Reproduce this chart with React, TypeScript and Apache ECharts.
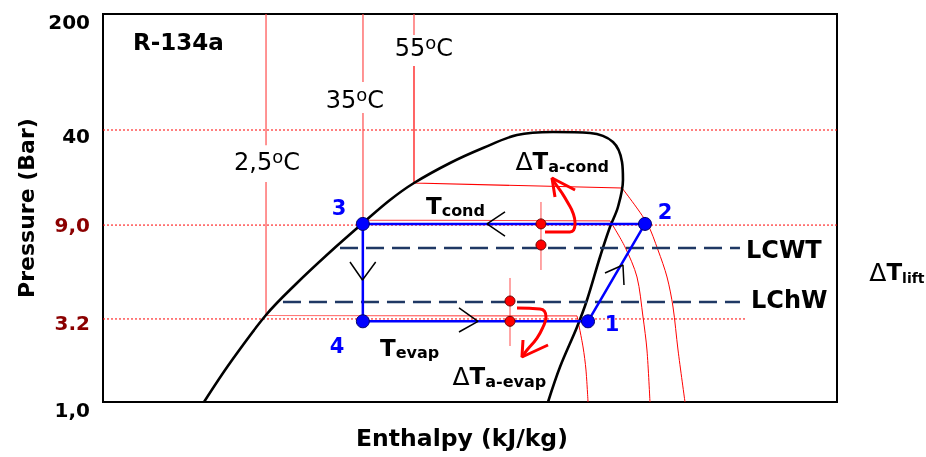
import React, { useEffect, useRef } from 'react';
import * as echarts from 'echarts';

// Y axis: schematic pressure levels (0 = bottom of chart, 100 = top)
const pressureLevels = [0, 21.4, 45.6, 70.1, 100];
const pressureLabels = ['1,0', '3.2', '9,0', '40', '200'];

// Saturation dome (enthalpy index, pressure level)
const saturationDome: number[][] = [
  [13.76, 0], [17.3, 10.05], [22.21, 22.42], [26.43, 30.67], [30.79, 38.4],
  [35.42, 46.13], [39.1, 52.06], [42.37, 56.44], [47.28, 61.6], [51.77, 65.46],
  [56.4, 68.81], [61.31, 69.59], [66.35, 69.33], [69.48, 67.01], [70.71, 61.86],
  [70.84, 57.22], [70.16, 50.26], [69.07, 45.1], [67.71, 37.37], [65.94, 26.29],
  [64.58, 19.33], [62.26, 9.02], [60.63, 0],
];

// Isotherms
const iso25Top = [[22.21, 100], [22.21, 66.2]];
const iso25Main = [[22.21, 56.7], [22.21, 22.3], [64.58, 22.2]];
const iso25Vapor = [[64.58, 22.2], [65.4, 14.18], [65.8, 8.25], [66.08, 0]];
const iso35Top = [[35.42, 100], [35.42, 82.5]];
const iso35Main = [[35.42, 74.5], [35.42, 46.9], [69.07, 46.7]];
const iso35Vapor = [[69.07, 46.7], [71.12, 39.95], [72.75, 32.22], [73.57, 21.91], [74.11, 13.4], [74.52, 0]];
const iso55Top = [[42.37, 100], [42.37, 94.6]];
const iso55Main = [[42.37, 86.6], [42.37, 56.44], [70.71, 55.15]];
const iso55Vapor = [[70.71, 55.15], [74.11, 46.13], [75.61, 39.18], [76.84, 32.22], [77.66, 24.48], [78.34, 13.4], [79.29, 0]];

// Pressure reference lines
const p40Line = [[0, 70.1], [100, 70.1]];
const p9Line = [[0, 45.6], [100, 45.6]];
const p32Line = [[0, 21.4], [87.7, 21.4]];

// Refrigeration cycle points 1 -> 2 -> 3 -> 4 -> 1
const cyclePoints = [[66.08, 20.8], [73.84, 45.9], [35.4, 45.9], [35.4, 20.8]];
const cycleLine = [...cyclePoints, cyclePoints[0]];

// Water temperature lines
const lcwtLine = [[32.29, 39.69], [86.78, 39.69]];
const lchwLine = [[24.52, 25.77], [86.78, 25.77]];

// Approach temperature markers
const approachDots = [[59.67, 45.9], [59.67, 40.46], [55.45, 26.03], [55.45, 20.8]];
const condTick = [[59.67, 51.55], [59.67, 34.02]];
const evapTick = [[55.45, 31.96], [55.45, 14.43]];
const condArrow = [[60.22, 43.81], [63.62, 43.81], [64.31, 46.13], [64.03, 48.71], [63.35, 51.29], [62.53, 53.87], [61.58, 56.44], [61.17, 57.73]];
const condArrowHead = [[61.58, 52.84], [61.17, 57.73], [64.31, 54.64]];
const evapArrow = [[56.4, 24.23], [59.54, 23.97], [60.35, 21.91], [59.95, 19.33], [59.13, 16.49], [57.77, 13.4], [57.08, 11.6]];
const evapArrowHead = [[60.63, 14.69], [57.08, 11.6], [57.22, 15.98]];

// Flow direction chevrons
const chevronDown = [[33.65, 36.08], [35.35, 31.44], [37.15, 36.08]];
const chevronLeft = [[54.77, 48.97], [52.32, 45.9], [54.77, 42.78]];
const chevronRight = [[48.5, 24.23], [51.09, 20.8], [48.5, 18.04]];
const chevronUp = [[68.39, 33.25], [70.84, 35.31], [70.98, 30.15]];

// Lift brace
const liftBrace = [[100.82, 45.1], [101.9, 43.9], [102.18, 42.0], [102.18, 36.6], [102.6, 34.0], [103.41, 33.25], [102.6, 32.5], [102.18, 30.0], [102.18, 24.4], [101.9, 22.4], [100.82, 21.13]];

const FONT = 'DejaVu Sans';

// Text annotations anchored in data space
const annotations = [
  { value: [4.09, 92.78], text: '{rk|R-134a}', align: 'left' },
  { value: [22.34, 61.86], text: '{n|2,5}{s|o}{n|C}', align: 'center' },
  { value: [34.33, 77.84], text: '{n|35}{s|o}{n|C}', align: 'center' },
  { value: [43.73, 91.24], text: '{n|55}{s|o}{n|C}', align: 'center' },
  { value: [32.15, 50.0], text: '{b|3}', align: 'center' },
  { value: [76.57, 48.97], text: '{b|2}', align: 'center' },
  { value: [69.35, 20.1], text: '{b|1}', align: 'center' },
  { value: [31.88, 14.43], text: '{b|4}', align: 'center' },
  { value: [44.0, 50.6], text: '{t|T}{sub|cond}', align: 'left' },
  { value: [37.74, 14.0], text: '{t|T}{sub|evap}', align: 'left' },
  { value: [56.2, 62.0], text: '{d|Δ}{t|T}{sub|a-cond}', align: 'left' },
  { value: [47.62, 6.6], text: '{d|Δ}{t|T}{sub|a-evap}', align: 'left' },
  { value: [87.6, 39.18], text: '{big|LCWT}', align: 'left' },
  { value: [88.28, 26.29], text: '{big|LChW}', align: 'left' },
  { value: [104.4, 33.5], text: '{d|Δ}{t|T}{sl|lift}', align: 'left' },
];

const richText: any = {
  rk: { fontFamily: FONT, fontWeight: 'bold', fontSize: 23, fill: '#000' },
  n: { fontFamily: FONT, fontSize: 24, fill: '#000', lineHeight: 28 },
  s: { fontFamily: FONT, fontSize: 18, fill: '#000', verticalAlign: 'top', lineHeight: 16 },
  b: { fontFamily: FONT, fontWeight: 'bold', fontSize: 21, fill: '#0000ff' },
  t: { fontFamily: FONT, fontWeight: 'bold', fontSize: 23, fill: '#000', lineHeight: 26 },
  sub: { fontFamily: FONT, fontWeight: 'bold', fontSize: 16, fill: '#000', verticalAlign: 'bottom', lineHeight: 16 },
  sl: { fontFamily: FONT, fontWeight: 'bold', fontSize: 14, fill: '#000', verticalAlign: 'bottom', lineHeight: 15 },
  d: { fontFamily: FONT, fontSize: 25, fill: '#000', lineHeight: 26 },
  big: { fontFamily: FONT, fontWeight: 'bold', fontSize: 24, fill: '#000' },
};

function lineSeries(data: number[][], color: string, width: number, extra: any = {}) {
  return {
    type: 'line',
    data,
    showSymbol: false,
    symbol: 'none',
    silent: true,
    clip: false,
    smooth: extra.smooth !== undefined ? extra.smooth : false,
    lineStyle: { color, width, type: 'solid', ...(extra.lineStyle || {}) },
    z: extra.z ?? 3,
  };
}

export default function App() {
  const ref = useRef<HTMLDivElement>(null);
  useEffect(() => {
    const chart = echarts.init(ref.current!, undefined, { renderer: 'svg' });
    const isoColor = '#ff4d4d';
    const option: any = {
      animation: false,
      grid: { left: 103, right: 89, top: 14, bottom: 55, show: true, borderColor: '#000', borderWidth: 2, backgroundColor: 'transparent' },
      xAxis: {
        type: 'value', min: 0, max: 100,
        axisLine: { show: false }, axisTick: { show: false }, axisLabel: { show: false }, splitLine: { show: false },
        name: 'Enthalpy (kJ/kg)', nameLocation: 'middle', nameGap: 24,
        nameTextStyle: { fontFamily: FONT, fontWeight: 'bold', fontSize: 23.5, color: '#000', padding: [0, 16, 0, 0] },
      },
      yAxis: {
        type: 'value', min: 0, max: 100,
        axisLine: { show: false }, axisTick: { show: false }, splitLine: { show: false },
        axisLabel: {
          customValues: pressureLevels,
          margin: 13,
          formatter: (v: number) => {
            let idx = 0;
            pressureLevels.forEach((p, i) => { if (Math.abs(p - v) < Math.abs(pressureLevels[idx] - v)) idx = i; });
            const styles = ['k16', 'r8', 'r0', 'k12', 'k16'];
            return '{' + styles[idx] + '|' + pressureLabels[idx] + '}';
          },
          rich: {
            k16: { fontFamily: FONT, fontWeight: 'bold', fontSize: 20, color: '#000', padding: [16, 0, 0, 0] },
            k12: { fontFamily: FONT, fontWeight: 'bold', fontSize: 20, color: '#000', padding: [12, 0, 0, 0] },
            r8: { fontFamily: FONT, fontWeight: 'bold', fontSize: 20, color: '#8b0000', padding: [8, 0, 0, 0] },
            r0: { fontFamily: FONT, fontWeight: 'bold', fontSize: 20, color: '#8b0000' },
          },
        },
        name: 'Pressure (Bar)', nameLocation: 'middle', nameGap: 66, nameRotate: 90,
        nameTextStyle: { fontFamily: FONT, fontWeight: 'bold', fontSize: 22, color: '#000' },
      },
      series: [
        lineSeries(p40Line, '#ff0000', 1, { lineStyle: { type: [2, 2] }, z: 1 }),
        lineSeries(p9Line, '#ff0000', 1, { lineStyle: { type: [2, 2] }, z: 1 }),
        lineSeries(p32Line, '#ff0000', 1, { lineStyle: { type: [2, 2] }, z: 1 }),
        lineSeries(iso25Top, isoColor, 1.2),
        lineSeries(iso25Main, isoColor, 1.2),
        lineSeries(iso25Vapor, '#ff0000', 1, { smooth: 0.3 }),
        lineSeries(iso35Top, isoColor, 1.2),
        lineSeries(iso35Main, isoColor, 1.2),
        lineSeries(iso35Vapor, '#ff0000', 1, { smooth: 0.3 }),
        lineSeries(iso55Top, isoColor, 1.2),
        lineSeries(iso55Main, '#ff0000', 1.2),
        lineSeries(iso55Vapor, '#ff0000', 1, { smooth: 0.3 }),
        lineSeries(saturationDome, '#000', 2.6, { smooth: 0.35, z: 4 }),
        lineSeries(lcwtLine, '#1f3864', 2.5, { lineStyle: { type: [18, 8] }, z: 4 }),
        lineSeries(lchwLine, '#1f3864', 2.5, { lineStyle: { type: [18, 8] }, z: 4 }),
        lineSeries(condTick, isoColor, 1, { z: 4 }),
        lineSeries(evapTick, isoColor, 1, { z: 4 }),
        lineSeries(cycleLine, '#0000ff', 2.5, { z: 5 }),
        lineSeries(chevronDown, '#000', 1.5, { z: 6 }),
        lineSeries(chevronLeft, '#000', 1.5, { z: 6 }),
        lineSeries(chevronRight, '#000', 1.5, { z: 6 }),
        lineSeries(chevronUp, '#000', 1.5, { z: 6 }),
        lineSeries(condArrow, '#ff0000', 3, { smooth: 0.5, z: 6 }),
        lineSeries(condArrowHead, '#ff0000', 3, { z: 6 }),
        lineSeries(evapArrow, '#ff0000', 3, { smooth: 0.5, z: 6 }),
        lineSeries(evapArrowHead, '#ff0000', 3, { z: 6 }),
        lineSeries(liftBrace, '#c00000', 2, { smooth: 0.5, z: 6 }),
        {
          type: 'scatter', data: cyclePoints, symbolSize: 13, silent: true, z: 7,
          itemStyle: { color: '#0000ff', borderColor: '#000066', borderWidth: 1, opacity: 1 },
        },
        {
          type: 'scatter', data: approachDots, symbolSize: 10, silent: true, z: 7,
          itemStyle: { color: '#ff0000', borderColor: '#660000', borderWidth: 1, opacity: 1 },
        },
      ],
    };
    chart.setOption(option);
    const graphics = annotations.map((a) => {
      const p = chart.convertToPixel({ gridIndex: 0 }, a.value) as number[];
      return {
        type: 'text',
        x: p[0],
        y: p[1],
        z: 100,
        silent: true,
        style: { text: a.text, rich: richText, align: a.align, verticalAlign: 'middle', fill: '#000', fontFamily: FONT },
      };
    });
    chart.setOption({ graphic: graphics });
    return () => chart.dispose();
  }, []);
  return <div ref={ref} style={{ position: 'fixed', left: 0, top: 0, width: 926, height: 457 }} />;
}
